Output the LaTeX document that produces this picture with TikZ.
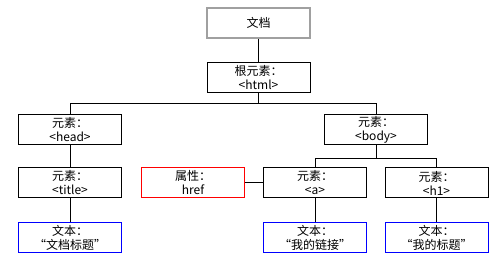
\documentclass[tikz,border=0pt]{standalone}
\usepackage{fontspec}
\setmainfont{Noto Sans CJK SC}
\usetikzlibrary{positioning,calc}
\definecolor{cdoc}{RGB}{160,160,160}
\definecolor{cattr}{RGB}{255,0,0}
\definecolor{ctext}{RGB}{0,0,255}

\begin{document}
\begin{tikzpicture}[font=\fontsize{12}{14}\selectfont,line width=1pt,node distance=22pt,
  elem/.style={draw,minimum width=103pt,minimum height=30pt,inner sep=1pt,align=center},
  docbox/.style={elem,draw=cdoc,line width=2pt},
  attrbox/.style={elem,draw=cattr},
  textbox/.style={elem,draw=ctext}]
  \useasboundingbox (0,0) rectangle (503pt,-264pt);
  \node[docbox] (doc) at (258.5pt,-23pt) {文档};
  \node[elem,below=23pt of doc] (html) {根元素：\\<html>};
  \node[elem] (head) at (70pt,-130pt) {元素：\\<head>};
  \node[elem] (body) at (376pt,-130pt) {元素：\\<body>};
  \node[elem,below=of head] (title) {元素：\\<title>};
  \node[elem,below=of body,xshift=-61pt] (a) {元素：\\<a>};
  \node[elem,below=of body,xshift=60.5pt] (h1) {元素：\\<h1>};
  \node[attrbox,left=18pt of a] (attr) {属性：\\href};
  \node[textbox,below=24pt of title] (titletxt) {文本：\\“文档标题”};
  \node[textbox,below=24pt of a] (atxt) {文本：\\“我的链接”};
  \node[textbox,below=24pt of h1] (h1txt) {文本：\\“我的标题”};
  \coordinate (hubhtml) at ($(html.south)+(0,-11pt)$);
  \coordinate (hubbody) at ($(body.south)+(0,-13pt)$);
  \draw (doc) -- (html);
  \draw (html.south) -- (hubhtml) -| (head.north);
  \draw (hubhtml) -| (body.north);
  \draw (head) -- (title);
  \draw (title) -- (titletxt);
  \draw (body.south) -- (hubbody) -| (a.north);
  \draw (hubbody) -| (h1.north);
  \draw (attr) -- (a);
  \draw (a) -- (atxt);
  \draw (h1) -- (h1txt);
\end{tikzpicture}
\end{document}
